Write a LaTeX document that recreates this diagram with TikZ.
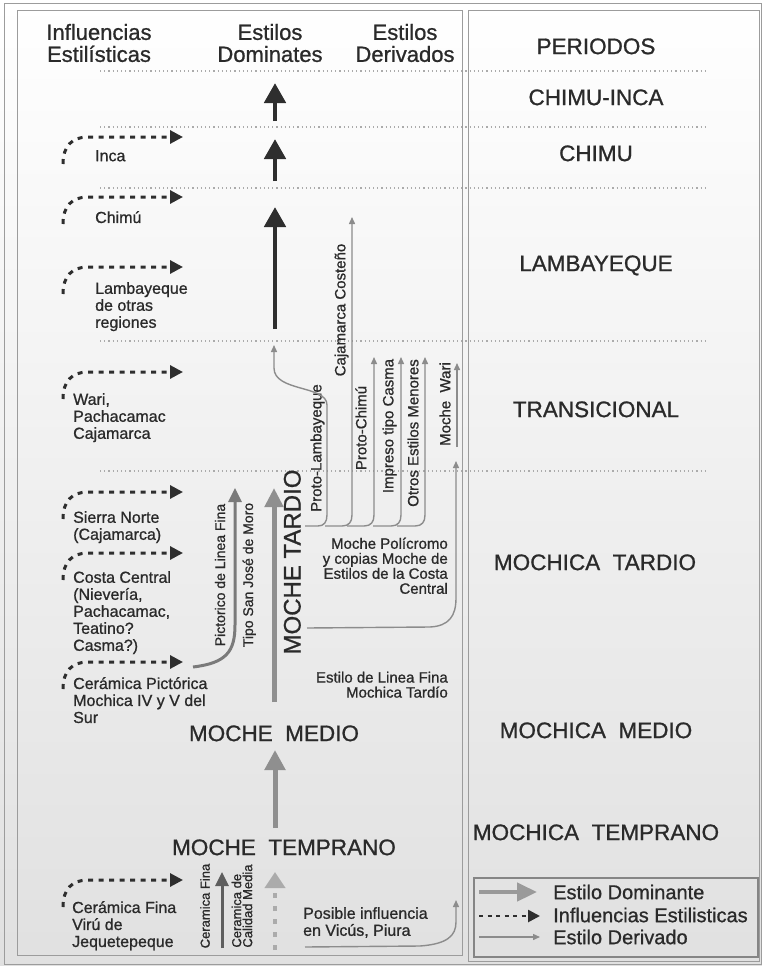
\documentclass[tikz,border=0pt]{standalone}
\usepackage{fontspec}
\setmainfont{Liberation Sans}[FakeBold=0.9]
\usetikzlibrary{arrows.meta}
\definecolor{ink}{HTML}{2A2A2A}
\definecolor{darkarr}{HTML}{2E2E2E}
\definecolor{domgray}{HTML}{8F8F8F}
\definecolor{pictgray}{HTML}{7A7A7A}
\definecolor{finagray}{HTML}{5E5E5E}
\definecolor{lightdom}{HTML}{ABABAB}
\definecolor{dergray}{HTML}{8C8C8C}
\definecolor{framegray}{HTML}{9C9C9C}
\definecolor{dotgray}{HTML}{ABABAB}
\begin{document}
\begin{tikzpicture}[x=1pt,y=-1pt,
  hdr/.style={text=ink, inner sep=0pt, align=center, font=\fontsize{22}{22}\selectfont},
  per/.style={text=ink, inner sep=0pt, font=\fontsize{22.5}{24}\selectfont, text height=16.2pt, text depth=0pt},
  lft/.style={text=ink, inner sep=0pt, anchor=north west, align=left, font=\fontsize{16}{17}\selectfont},
  rgt/.style={text=ink, inner sep=0pt, anchor=north east, align=right, font=\fontsize{15}{15}\selectfont},
  rot/.style={text=ink, inner sep=0pt, rotate=90, font=\fontsize{15}{15}\selectfont, text height=10.8pt, text depth=0pt},
  rotsm/.style={text=ink, inner sep=0pt, rotate=90, font=\fontsize{14}{14}\selectfont, text height=10pt, text depth=0pt},
  rotxs/.style={text=ink, inner sep=0pt, rotate=90, font=\fontsize{13}{11}\selectfont},
  rotbig/.style={text=ink, inner sep=0pt, rotate=90, font=\fontsize{24}{24}\selectfont, text height=17.2pt, text depth=0pt},
  leg/.style={text=ink, inner sep=0pt, anchor=west, font=\fontsize{20}{20}\selectfont, text height=14.3pt, text depth=0pt},
  blackarr/.style={draw=darkarr, line width=4.8pt, -{Triangle[width=21pt,length=20pt]}},
  domarr/.style={draw=domgray, line width=5pt, -{Triangle[width=19pt,length=19pt]}},
  infl/.style={draw=darkarr, line width=3pt, dash pattern=on 5pt off 5.5pt, -{Triangle[width=13pt,length=13pt]}},
  derarr/.style={draw=dergray, line width=1.4pt, -{Triangle[width=6pt,length=7pt]}},
  perline/.style={draw=dotgray, line width=1.3pt, dash pattern=on 1.2pt off 3pt},
  framel/.style={draw=framegray, line width=1pt}
]
\useasboundingbox (0,0) rectangle (762,966);
\shade[top color=white, bottom color=black!12] (0,0) rectangle (762,966);

% frames
\draw[framel] (4,4) rectangle (761,964);
\draw[framel] (17,11) rectangle (462,955);
\draw[framel] (468,11) rectangle (759,961);
\draw[draw=framegray!85!black, line width=1.4pt] (474,878) rectangle (758,957);

% period separators
\foreach \yy in {71,127,188,341,471} \draw[perline] (100,\yy) -- (708,\yy);

% headers
\node[hdr] (hInf) at (99,43) {Influencias\\Estilísticas};
\node[hdr] (hDom) at (270,43) {Estilos\\Dominates};
\node[hdr] (hDer) at (405,43) {Estilos\\Derivados};

% periods
\node[per] (pPer) at (596,46) {PERIODOS};
\node[per] (pCI) at (596,97) {CHIMU-INCA};
\node[per] (pCh) at (596,153) {CHIMU};
\node[per] (pLa) at (596,263) {LAMBAYEQUE};
\node[per] (pTr) at (596,409) {TRANSICIONAL};
\node[per] (pMT) at (595,562) {MOCHICA\ \ TARDIO};
\node[per] (pMM) at (596,730) {MOCHICA\ \ MEDIO};
\node[per] (pMTe) at (596,832) {MOCHICA\ \ TEMPRANO};

% dominant styles
\node[per] (mMed) at (274,733) {MOCHE\ \ MEDIO};
\node[per] (mTem) at (284,847) {MOCHE\ \ TEMPRANO};
\node[rotbig] (mTar) at (292,562) {MOCHE TARDIO};

% stylistic influences texts
\node[lft] (nInca) at (95,150) {Inca};
\node[lft] (nChimu) at (95,211) {Chimú};
\node[lft] (nLamb) at (95,282) {Lambayeque\\de otras\\regiones};
\node[lft] (nWari) at (73,393) {Wari,\\Pachacamac\\Cajamarca};
\node[lft] (nSierra) at (73,511) {Sierra Norte\\(Cajamarca)};
\node[lft] (nCosta) at (73,571) {Costa Central\\(Nievería,\\Pachacamac,\\Teatino?\\Casma?)};
\node[lft] (nCerP) at (73,677) {Cerámica Pictórica\\Mochica IV y V del\\Sur};
\node[lft] (nCerF) at (72,901) {Cerámica Fina\\Virú de\\Jequetepeque};
\node[lft] (nPos) at (303,907) {Posible influencia\\en Vicús, Piura};

% derived texts
\node[rgt] (nPoli) at (448,537.5) {Moche Polícromo\\y copias Moche de\\Estilos de la Costa\\Central};
\node[rgt] (nLinea) at (448,671.5) {Estilo de Linea Fina\\Mochica Tardío};
\node[rot] (rPL) at (316,448) {Proto-Lambayeque};
\node[rot] (rCC) at (340,310) {Cajamarca Costeño};
\node[rot] (rPC) at (361,428) {Proto-Chimú};
\node[rot] (rIC) at (388,426) {Impreso tipo Casma};
\node[rot] (rOE) at (413,433) {Otros Estilos Menores};
\node[rot] (rMW) at (445,404) {Moche\ \ Wari};
\node[rotsm] (rPict) at (220,575) {Pictorico de Linea Fina};
\node[rotsm] (rTipo) at (248,575) {Tipo San José de Moro};
\node[rotxs, text height=9.4pt, text depth=0pt] (rCF) at (205,906) {Ceramica Fina};
\node[rotxs, align=left] (rCM) at (242,906) {Ceramica de\\Calidad Media};

% dominant arrows
\coordinate (b1s) at (275,121); \coordinate (b1e) at (275,83);
\coordinate (b2s) at (275,181); \coordinate (b2e) at (275,139);
\coordinate (b3s) at (275,329); \coordinate (b3e) at (275,207);
\draw[blackarr] (b1s) -- (b1e);
\draw[blackarr] (b2s) -- (b2e);
\draw[blackarr] (b3s) -- (b3e);
\coordinate (g1s) at (274,702); \coordinate (g1e) at (274,488);
\coordinate (g2s) at (275,828); \coordinate (g2e) at (275,750);
\draw[domarr, -{Triangle[width=18pt,length=19pt]}] (g1s) -- (g1e);
\draw[domarr, -{Triangle[width=20pt,length=20pt]}] (g2s) -- (g2e);
\coordinate (g3s) at (275,950); \coordinate (g3e) at (275,872);
\draw[draw=lightdom, line width=4pt, dash pattern=on 5pt off 8pt, -{Triangle[width=20pt,length=16pt]}] (g3s) -- (g3e);
\coordinate (fs) at (222,948); \coordinate (fe) at (222,872);
\draw[draw=finagray, line width=3pt, -{Triangle[width=13pt,length=14pt]}] (fs) -- (fe);
\coordinate (ps) at (193,667); \coordinate (pe) at (235,488);
\draw[draw=pictgray, line width=3pt, -{Triangle[width=13pt,length=14pt]}] (ps) .. controls (226,663) and (235,652) .. (235,625) -- (pe);

% influence arrows
\foreach \nm/\yy in {iInca/137, iChimu/197, iLamb/267, iWari/372, iSierra/492, iCosta/553, iCerP/662, iCerF/880}{
  \coordinate (\nm s) at (63,\yy+27);
  \coordinate (\nm e) at (183,\yy);
  \draw[infl] (\nm s) .. controls +(0,-18) and +(-16,0) .. (88,\yy) -- (\nm e);
}

% derived arrows
\coordinate (plS) at (305,526); \coordinate (plE) at (274,345);
\draw[derarr] (plS) -- (318,526) .. controls (324,526) and (327,522) .. (327,515) -- (327,405) .. controls (327,385) and (274,392) .. (274,368) -- (plE);
\coordinate (ccS) at (325,526); \coordinate (ccE) at (352,217);
\draw[derarr] (ccS) -- (342,526) .. controls (349,526) and (352,522) .. (352,515) -- (ccE);
\coordinate (pcS) at (347,526); \coordinate (pcE) at (374,357);
\draw[derarr] (pcS) -- (364,526) .. controls (371,526) and (374,522) .. (374,515) -- (pcE);
\coordinate (icS) at (373,526); \coordinate (icE) at (401,357);
\draw[derarr] (icS) -- (391,526) .. controls (398,526) and (401,522) .. (401,515) -- (icE);
\coordinate (oeS) at (397,526); \coordinate (oeE) at (425,357);
\draw[derarr] (oeS) -- (415,526) .. controls (422,526) and (425,522) .. (425,515) -- (oeE);
\coordinate (mwS) at (457,447); \coordinate (mwE) at (457,363);
\draw[derarr] (mwS) -- (mwE);
\coordinate (mpS) at (307,628); \coordinate (mpE) at (456,461);
\draw[derarr] (mpS) -- (430,627) .. controls (449,626) and (456,616) .. (456,598) -- (mpE);
\coordinate (viS) at (305,947); \coordinate (viE) at (456,900);
\draw[derarr] (viS) -- (420,946) .. controls (447,944) and (456,936) .. (456,922) -- (viE);

% legend
\coordinate (l1s) at (479,892); \coordinate (l1e) at (537,892);
\draw[draw=lightdom!90!black, line width=4.5pt, -{Triangle[width=18pt,length=20pt]}] (l1s) -- (l1e);
\coordinate (l2s) at (479,916); \coordinate (l2e) at (540,916);
\draw[draw=darkarr, line width=2.6pt, dash pattern=on 4pt off 4.5pt, -{Triangle[width=12pt,length=12pt]}] (l2s) -- (l2e);
\coordinate (l3s) at (479,937); \coordinate (l3e) at (540,937);
\draw[derarr] (l3s) -- (l3e);
\node[leg] (lg1) at (553,892) {Estilo Dominante};
\node[leg] (lg2) at (553,915) {Influencias Estilisticas};
\node[leg] (lg3) at (553,937) {Estilo Derivado};
\end{tikzpicture}
\end{document}
